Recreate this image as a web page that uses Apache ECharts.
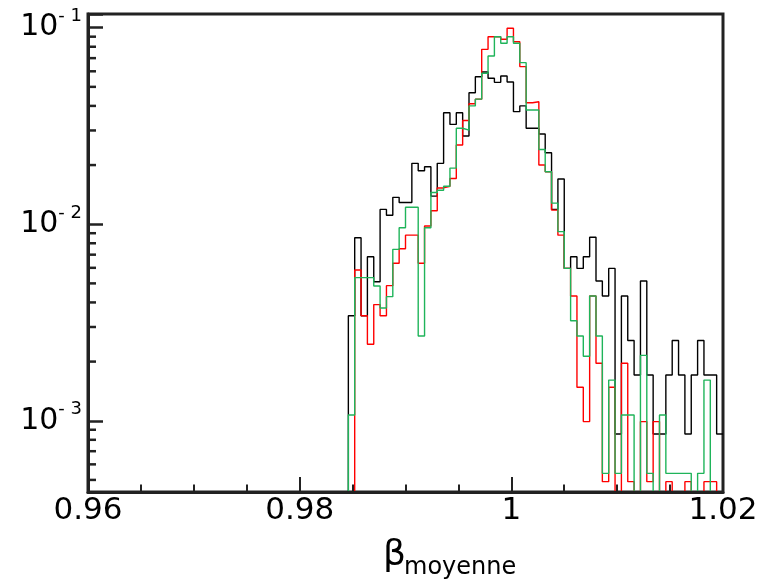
<!DOCTYPE html>
<html><head><meta charset="utf-8">
<script src="https://cdn.jsdelivr.net/npm/echarts@6/dist/echarts.min.js"></script>
<style>html,body{margin:0;padding:0;background:#fff}#c{width:775px;height:584px}</style>
</head><body><div id="c"></div>
<script>
// Histogram definition: 100 bins from 0.96 to 1.02
const HIST_MIN = 0.96, HIST_MAX = 1.02, N_BINS = 100;
const FIRST_BIN = 40; // arrays below start at bin 40 (bins before are empty)

// Bin contents (normalised), bins 40..99
const blackVals = [0, 0.00342, 0.00854, 0.00342, 0.00683, 0.00510, 0.0119, 0.0111, 0.0137, 0.0129,
  0.0129, 0.0204, 0.0187, 0.0196, 0.0139, 0.0204, 0.0369, 0.0322, 0.0369, 0.0281,
  0.0467, 0.0563, 0.0595, 0.0553, 0.0527, 0.0568, 0.0529, 0.0374, 0.0400, 0.0308,
  0.0308, 0.0288, 0.0231, 0.0119, 0.0170, 0.00596, 0.00683, 0.00596, 0.00683, 0.00858,
  0.00514, 0.00431, 0.00596, 0.000856, 0.00431, 0.00256, 0.00171, 0.00514, 0.00171, 0.000856,
  0.000856, 0.00171, 0.00256, 0.00171, 0.000856, 0.00171, 0.00256, 0.00171, 0.00171, 0.000856];
const redVals = [0, 0, 0.00585, 0.00342, 0.00245, 0.0039, 0.00342, 0.00487, 0.00633, 0.0075,
  0.0088, 0.0088, 0.00633, 0.0098, 0.0117, 0.0153, 0.0156, 0.0171, 0.0253, 0.0337,
  0.0410, 0.0433, 0.0776, 0.0900, 0.0900, 0.0873, 0.0993, 0.0848, 0.0634, 0.0415,
  0.0420, 0.0200, 0.0185, 0.0118, 0.0088, 0.00596, 0.00431, 0.00148, 0.00099, 0.00431,
  0.00196, 0.00049, 0.00148, 0, 0.00196, 0.00049, 0, 0.00099, 0.00049, 0.00099,
  0, 0.00049, 0, 0, 0.00049, 0, 0, 0.00049, 0.00049, 0];
const greenVals = [0, 0.00107, 0.00535, 0.00535, 0.00535, 0.00485, 0.00375, 0.00428, 0.00745, 0.0096,
  0.0122, 0.0122, 0.0027, 0.0096, 0.0145, 0.0149, 0.0156, 0.0193, 0.0308, 0.0301,
  0.0400, 0.0433, 0.0586, 0.0718, 0.0900, 0.0833, 0.0900, 0.0833, 0.0664, 0.0381,
  0.0381, 0.0240, 0.0185, 0.0128, 0.00917, 0.00596, 0.00323, 0.0027, 0.00213, 0.00431,
  0.0027, 0.00054, 0.00161, 0.00054, 0.00107, 0.00107, 0, 0.00215, 0.00054, 0,
  0.00107, 0.00054, 0.00054, 0.00054, 0.00054, 0, 0.00054, 0.00161, 0, 0];

// Axis ranges
const Y_MIN = 4.34e-4, Y_MAX = 0.1174;
const X_TICK_STEP = 0.02;
const yMinorTicks = [5e-4, 6e-4, 7e-4, 8e-4, 9e-4,
  2e-3, 3e-3, 4e-3, 5e-3, 6e-3, 7e-3, 8e-3, 9e-3,
  2e-2, 3e-2, 4e-2, 5e-2, 6e-2, 7e-2, 8e-2, 9e-2];

const FRAME = '#222';
const FONT = '"DejaVu Sans", sans-serif';

function histPoints(vals) {
  const w = (HIST_MAX - HIST_MIN) / N_BINS;
  const pts = vals.map((v, j) => [HIST_MIN + (FIRST_BIN + j) * w, v > 0 ? v : Y_MIN]);
  const last = vals[vals.length - 1];
  pts.push([HIST_MAX, last > 0 ? last : Y_MIN]);
  return pts;
}

function histSeries(vals, color) {
  return {
    type: 'line', step: 'end', showSymbol: false, symbol: 'none',
    data: histPoints(vals), clip: true, animation: false,
    lineStyle: { color: color, width: 1.4 }, z: 2
  };
}

const chart = echarts.init(document.getElementById('c'), null, { renderer: 'canvas' });
chart.setOption({
  animation: false,
  backgroundColor: '#fff',
  grid: { left: 88, right: 52, top: 14, bottom: 92, show: true, borderColor: FRAME, borderWidth: 3, backgroundColor: 'transparent' },
  xAxis: {
    type: 'value', min: HIST_MIN, max: HIST_MAX, interval: X_TICK_STEP, z: 10,
    axisLine: { show: true, onZero: false, lineStyle: { color: FRAME, width: 3 } },
    axisTick: { show: true, inside: true, length: 15, lineStyle: { color: FRAME, width: 2 } },
    minorTick: { show: true, splitNumber: 4, length: 7.5, lineStyle: { color: FRAME, width: 2 } },
    splitLine: { show: false }, minorSplitLine: { show: false },
    axisLabel: { fontSize: 31, color: '#000', margin: 3, fontFamily: FONT,
      formatter: v => String(+v.toFixed(2)) }
  },
  yAxis: {
    type: 'log', logBase: 10, min: Y_MIN, max: Y_MAX, z: 10,
    axisLine: { show: true, lineStyle: { color: FRAME, width: 3 } },
    axisTick: { show: true, inside: true, length: 15, lineStyle: { color: FRAME, width: 2.5 } },
    splitLine: { show: false },
    axisLabel: {
      margin: 6, color: '#000', fontFamily: FONT,
      formatter: v => {
        const l = Math.log10(v), e = Math.round(l);
        if (Math.abs(l - e) > 1e-6) return '';
        return '{b|10}{s|- ' + (-e) + '}';
      },
      rich: {
        b: { fontSize: 30, fontFamily: FONT, color: '#000', lineHeight: 40, verticalAlign: 'middle' },
        s: { fontSize: 18, fontFamily: FONT, color: '#000', lineHeight: 18, verticalAlign: 'top' }
      }
    }
  },
  graphic: [
    { type: 'text', left: 383, top: 538, style: { text: 'β', font: '36px ' + FONT, fill: '#000' } },
    { type: 'text', left: 404, top: 556, style: { text: 'moyenne', font: '24px ' + FONT, fill: '#000' } }
  ],
  series: [
    histSeries(blackVals, '#000000'),
    histSeries(redVals, '#ff0000'),
    histSeries(greenVals, '#1fb45a'),
    {
      type: 'custom', silent: true, clip: false, z: 10,
      data: yMinorTicks.map(v => [HIST_MIN, v]),
      renderItem: (params, api) => {
        const p = api.coord([api.value(0), api.value(1)]);
        return { type: 'line', shape: { x1: p[0], y1: p[1], x2: p[0] + 8, y2: p[1] },
          style: { stroke: FRAME, lineWidth: 2.5 } };
      }
    }
  ]
});
</script></body></html>
